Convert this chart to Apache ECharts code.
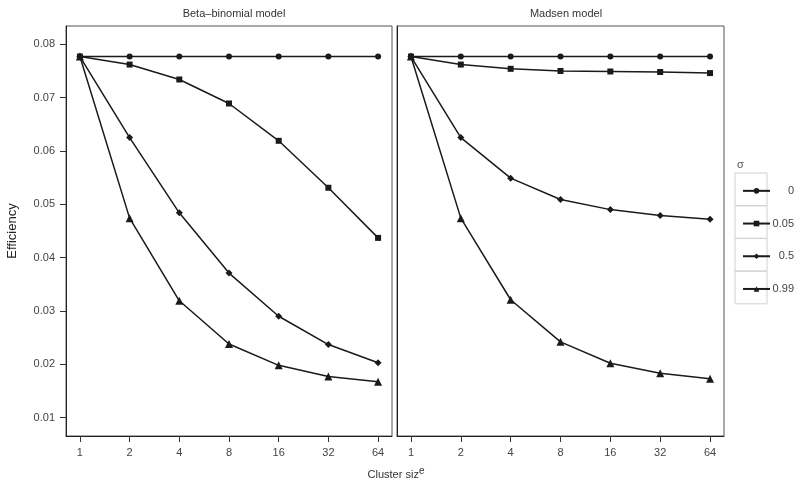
<!DOCTYPE html>
<html>
<head>
<meta charset="utf-8">
<script src="https://cdn.jsdelivr.net/npm/echarts@6/dist/echarts.min.js"></script>
<style>
    html, body { margin: 0; padding: 0; background: #fff; }
    #main { width: 800px; height: 483px; }
</style>
</head>
<body>
<div id="main"></div>
<script>
// 数据
const clusterSizes = [1, 2, 4, 8, 16, 32, 64];
const sigmaNames = ['0', '0.05', '0.5', '0.99'];
const yTicks = [0.01, 0.02, 0.03, 0.04, 0.05, 0.06, 0.07, 0.08];

// Beta-binomial model
const betaSigma0 = [0.0777, 0.0777, 0.0777, 0.0777, 0.0777, 0.0777, 0.0777];
const betaSigma005 = [0.0777, 0.0762, 0.0734, 0.0689, 0.0619, 0.0531, 0.0437];
const betaSigma05 = [0.0777, 0.0625, 0.0484, 0.0371, 0.0290, 0.0237, 0.0203];
const betaSigma099 = [0.0777, 0.0474, 0.0319, 0.0238, 0.0198, 0.0177, 0.0167];

// Madsen model
const madsenSigma0 = [0.0777, 0.0777, 0.0777, 0.0777, 0.0777, 0.0777, 0.0777];
const madsenSigma005 = [0.0777, 0.0762, 0.0754, 0.0750, 0.0749, 0.0748, 0.0746];
const madsenSigma05 = [0.0777, 0.0625, 0.0549, 0.0509, 0.0490, 0.0479, 0.0472];
const madsenSigma099 = [0.0777, 0.0474, 0.0321, 0.0242, 0.0202, 0.0183, 0.0173];

const symbols = ['circle', 'rect', 'diamond', 'triangle'];
const symbolSizes = [6, 6, 7, 8];
const font = "'Liberation Sans', Arial, sans-serif";

let myChart = echarts.init(document.getElementById('main'), null, { renderer: 'canvas' });

const xLog = clusterSizes.map(s => Math.log2(s));

function makeXAxis(gridIndex) {
    return {
        gridIndex,
        type: 'value',
        min: -0.28,
        max: 6.28,
        splitLine: { show: false },
        axisLine: { show: true, onZero: false, lineStyle: { color: '#222', width: 1 } },
        axisTick: { show: true, customValues: xLog, length: 6, lineStyle: { color: '#333' } },
        axisLabel: {
            customValues: xLog,
            formatter: v => String(Math.round(Math.pow(2, v))),
            color: '#444',
            fontSize: 11,
            fontFamily: font,
            margin: 11
        }
    };
}

function makeYAxis(gridIndex, withLabels) {
    return {
        gridIndex,
        type: 'value',
        min: 0.00655,
        max: 0.08343,
        splitLine: { show: false },
        axisLine: { show: true, onZero: false, lineStyle: { color: '#222', width: 1 } },
        axisTick: { show: withLabels, customValues: yTicks, length: 6, lineStyle: { color: '#333' } },
        axisLabel: {
            show: withLabels,
            customValues: yTicks,
            formatter: v => v.toFixed(2),
            color: '#444',
            fontSize: 11,
            fontFamily: font,
            margin: 11
        },
        name: withLabels ? 'Efficiency' : '',
        nameLocation: 'middle',
        nameGap: 47,
        nameTextStyle: { color: '#222', fontSize: 13, fontFamily: font }
    };
}

function makeSeries(values, idx, gridIdx) {
    return {
        name: sigmaNames[idx],
        type: 'line',
        xAxisIndex: gridIdx,
        yAxisIndex: gridIdx,
        data: values.map((v, i) => [xLog[i], v]),
        symbol: symbols[idx],
        symbolSize: symbolSizes[idx],
        showAllSymbol: true,
        lineStyle: { color: '#1a1a1a', width: 1.5 },
        itemStyle: { color: '#1a1a1a' },
        emphasis: { disabled: true },
        animation: false
    };
}

const betaData = [betaSigma0, betaSigma005, betaSigma05, betaSigma099];
const madsenData = [madsenSigma0, madsenSigma005, madsenSigma05, madsenSigma099];

let series = [];
betaData.forEach((d, i) => series.push(makeSeries(d, i, 0)));
madsenData.forEach((d, i) => series.push(makeSeries(d, i, 1)));

// 图例方框
const keyTop = 173;
const keyH = 32.7;
let legendBoxes = sigmaNames.map((n, i) => ({
    type: 'rect',
    shape: { x: 735, y: keyTop + keyH * i, width: 32, height: keyH },
    style: { fill: 'none', stroke: '#d0d0d0', lineWidth: 1 },
    z: 0
}));

let option = {
    backgroundColor: '#fff',
    animation: false,
    title: [
        {
            text: 'Beta\u2013binomial model',
            left: 229,
            top: 3,
            textAlign: 'center',
            textStyle: { color: '#333', fontSize: 11, fontWeight: 'normal', fontFamily: font }
        },
        {
            text: 'Madsen model',
            left: 561,
            top: 3,
            textAlign: 'center',
            textStyle: { color: '#333', fontSize: 11, fontWeight: 'normal', fontFamily: font }
        }
    ],
    grid: [
        { left: 66, top: 26, width: 326, height: 410, show: true, borderColor: '#555', borderWidth: 1 },
        { left: 397, top: 26, width: 327, height: 410, show: true, borderColor: '#555', borderWidth: 1 }
    ],
    xAxis: [makeXAxis(0), makeXAxis(1)],
    yAxis: [makeYAxis(0, true), makeYAxis(1, false)],
    legend: {
        orient: 'vertical',
        left: 737,
        top: keyTop + keyH / 2 - 10.5,
        itemWidth: 27,
        itemHeight: 7,
        itemGap: keyH - 14,
        data: sigmaNames,
        selectedMode: false,
        formatter: '{r|{name}}',
        textStyle: {
            color: '#444',
            fontSize: 11,
            lineHeight: 14,
            fontFamily: font,
            rich: {
                r: { width: 19, align: 'right', color: '#444', fontSize: 11, fontFamily: font, lineHeight: 14 }
            }
        }
    },
    graphic: legendBoxes.concat([
        {
            type: 'text',
            left: 737,
            top: 159,
            style: { text: '\u03c3', fill: '#555', fontSize: 11, fontFamily: font }
        },
        {
            type: 'text',
            x: 396,
            y: 475,
            style: {
                text: '{a|Cluster siz}{b|e}',
                align: 'center',
                verticalAlign: 'middle',
                rich: {
                    a: { fontSize: 11, fill: '#333', fontFamily: font },
                    b: { fontSize: 10, fill: '#333', fontFamily: font, padding: [0, 0, 8, 0] }
                }
            }
        }
    ]),
    series
};

myChart.setOption(option);
</script>
</body>
</html>
